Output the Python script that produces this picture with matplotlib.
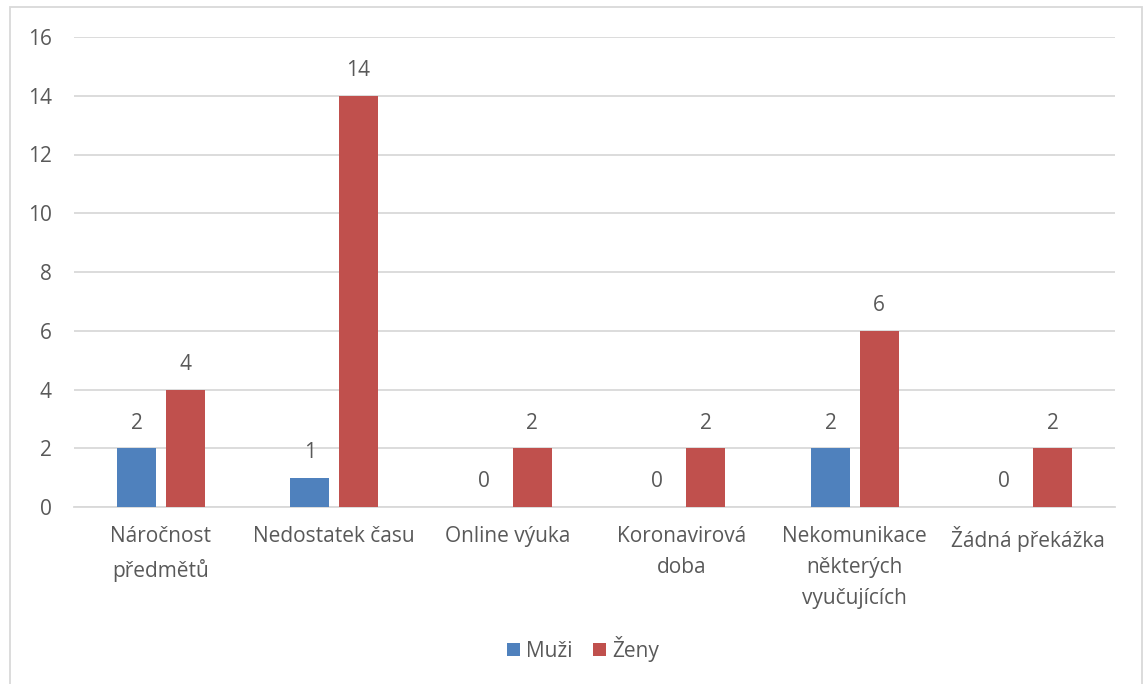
import numpy as np
import matplotlib.pyplot as plt
from matplotlib.patches import Rectangle

categories = ["Náročnost\npředmětů", "Nedostatek času", "Online výuka",
              "Koronavirová\ndoba", "Nekomunikace\nněkterých\nvyučujících",
              "Žádná překážka"]
muzi = [2, 1, 0, 0, 2, 0]
zeny = [4, 14, 2, 2, 6, 2]

plt.rcParams['font.family'] = ['Open Sans', 'DejaVu Sans']
text_c = '#595959'

fig = plt.figure(figsize=(11.46, 6.84), dpi=100)
W, H = 1146, 684
ax = fig.add_axes([74 / W, 1 - 507 / H, (1115 - 74) / W, (507 - 37) / H])

x = np.arange(len(categories))
bw = 0.225
off = 0.14
b1 = ax.bar(x - off, muzi, bw, color='#4F81BD', label='Muži', zorder=3)
b2 = ax.bar(x + off, zeny, bw, color='#C0504D', label='Ženy', zorder=3)

for bars, vals in ((b1, muzi), (b2, zeny)):
    for r, v in zip(bars, vals):
        ax.text(r.get_x() + r.get_width() / 2, v + 0.5, str(v),
                ha='center', va='bottom', fontsize=15, color=text_c)

ax.set_xlim(-0.5, len(categories) - 0.5)
ax.set_ylim(0, 16)
ax.set_yticks(range(0, 17, 2))
ax.set_xticks(x)
ax.set_xticklabels(categories, fontsize=15, color=text_c, linespacing=1.62)
ax.tick_params(axis='y', labelsize=15, colors=text_c, length=0, pad=16)
ax.tick_params(axis='x', length=0, pad=14)
ax.grid(axis='y', color='#D9D9D9', linewidth=1.3, zorder=0)
for s in ['top', 'right', 'left']:
    ax.spines[s].set_visible(False)
ax.spines['bottom'].set_color('#D9D9D9')
ax.spines['bottom'].set_linewidth(1.3)

fig.legend(handles=[b1, b2], loc='center', bbox_to_anchor=(583 / W, 1 - 649 / H),
           ncol=2, frameon=False, fontsize=15, labelcolor=text_c,
           handlelength=0.6, handleheight=0.6, handletextpad=0.3, columnspacing=1.0)

fig.patches.append(Rectangle((10 / W, -0.01), (1142 - 10) / W, 1 - 7 / H + 0.01,
                             transform=fig.transFigure, fill=False,
                             edgecolor='#D9D9D9', linewidth=1.3))

fig.savefig('out.png', dpi=100, facecolor='white')
